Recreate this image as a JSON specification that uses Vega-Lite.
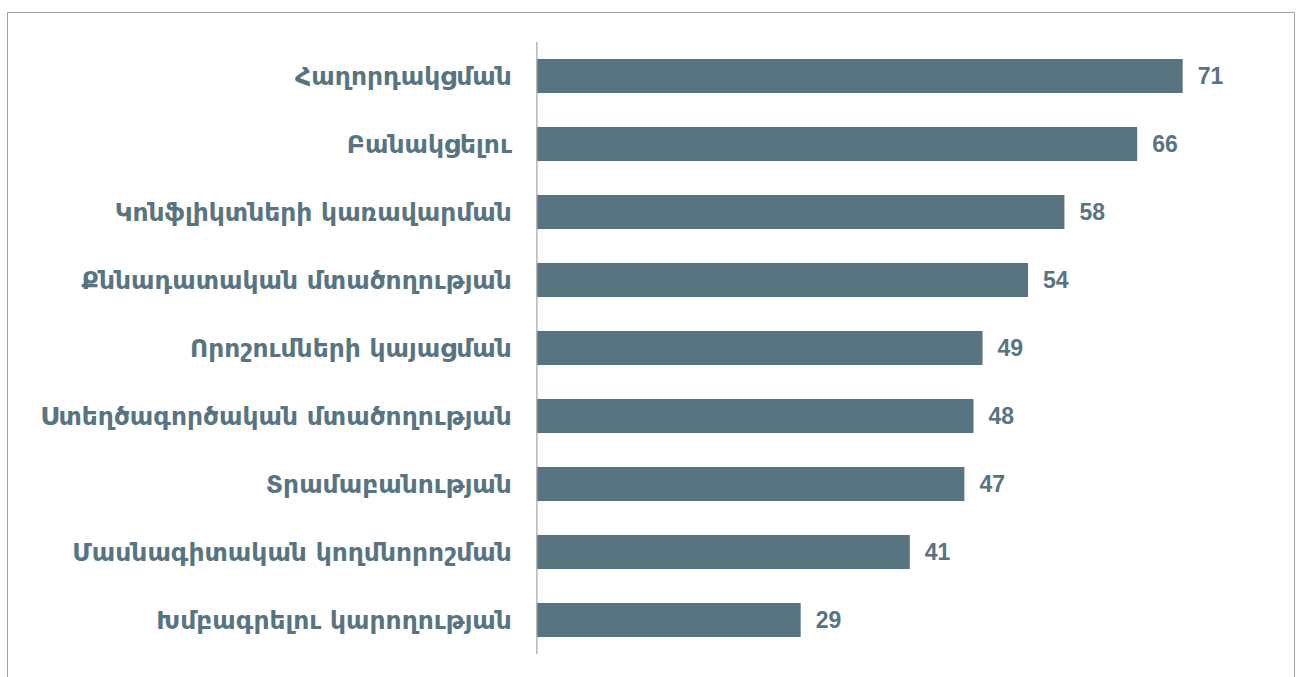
{
  "$schema": "https://vega.github.io/schema/vega-lite/v6.json",
  "autosize": {"type": "none"},
  "padding": {"left": 7, "top": 12, "right": 6, "bottom": 0},
  "width": 1287,
  "height": 665,
  "background": "white",
  "config": {"view": {"stroke": "#a0a0a0", "strokeWidth": 1}},
  "data": {"values": [
    {"label": "Հաղորդակցման", "value": 71},
    {"label": "Բանակցելու", "value": 66},
    {"label": "Կոնֆլիկտների կառավարման", "value": 58},
    {"label": "Քննադատական մտածողության", "value": 54},
    {"label": "Որոշումների կայացման", "value": 49},
    {"label": "Ստեղծագործական մտածողության\u2002", "value": 48},
    {"label": "Տրամաբանության", "value": 47},
    {"label": "Մասնագիտական կողմնորոշման", "value": 41},
    {"label": "Խմբագրելու կարողության", "value": 29}
  ]},
  "encoding": {
    "y": {"field": "label", "type": "nominal", "sort": null,
      "scale": {"paddingInner": 0, "paddingOuter": 0.3897, "align": 0.566},
      "axis": null}
  },
  "layer": [
    {
      "mark": {"type": "bar", "color": "#587481", "height": {"band": 0.5}},
      "encoding": {
        "x": {"field": "value", "type": "quantitative",
          "scale": {"domain": [-58.26, 83.24], "nice": false, "zero": false},
          "axis": null}
      }
    },
    {
      "mark": {"type": "bar", "fill": null, "stroke": "#a0a0a0", "strokeWidth": 1.2, "height": {"band": 1}},
      "encoding": {
        "x": {"datum": 0, "type": "quantitative"},
        "x2": {"datum": 0}
      }
    },
    {
      "mark": {"type": "text", "align": "left", "baseline": "middle", "dx": 15, "dy": 1,
        "font": "Liberation Sans, Arial, sans-serif", "fontSize": 23, "fontWeight": "bold", "color": "#587481"},
      "encoding": {
        "x": {"field": "value", "type": "quantitative"},
        "text": {"field": "value", "type": "quantitative"}
      }
    },
    {
      "mark": {"type": "text", "align": "right", "baseline": "middle", "dx": -25, "dy": 1,
        "font": "DejaVu Sans, sans-serif", "fontSize": 25, "fontWeight": "bold", "color": "#587481"},
      "encoding": {
        "x": {"datum": 0, "type": "quantitative"},
        "text": {"field": "label", "type": "nominal"}
      }
    }
  ]
}
